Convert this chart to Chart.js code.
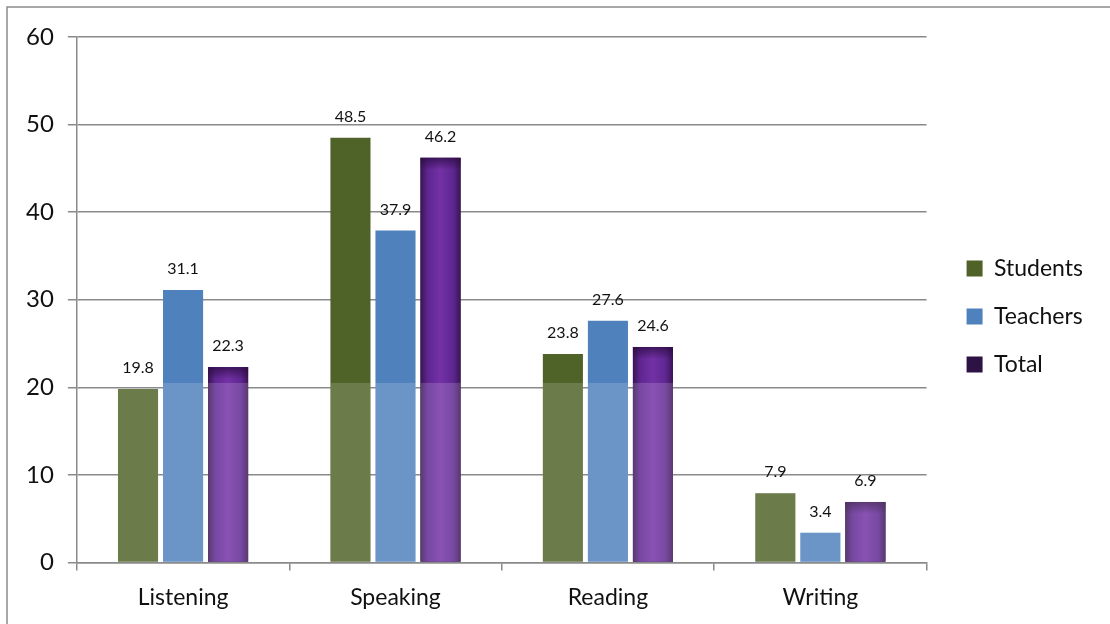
<!DOCTYPE html>
<html>
<head>
<meta charset="utf-8">
<script src="https://cdn.jsdelivr.net/npm/chart.js@4"></script>
<style>
  body { margin: 0; background: #fff; }
  #wrap { width: 1110px; height: 624px; position: relative; }
</style>
</head>
<body>
<div id="wrap"><canvas id="skills"></canvas></div>
<script>
const categories = ['Listening', 'Speaking', 'Reading', 'Writing'];
const students = [19.8, 48.5, 23.8, 7.9];
const teachers = [31.1, 37.9, 27.6, 3.4];
const total = [22.3, 46.2, 24.6, 6.9];

const FONT = 'Lato, "Open Sans", sans-serif';
const GRID = '#8a8a8a';

// outer frame of the figure
const framePlugin = {
  id: 'frame',
  beforeDraw(chart) {
    const c = chart.ctx;
    c.save();
    c.fillStyle = '#fff';
    c.fillRect(0, 0, chart.width, chart.height);
    c.strokeStyle = '#8c8c8c';
    c.lineWidth = 1.5;
    c.strokeRect(7, 7, chart.width + 50, chart.height + 50);
    c.restore();
  }
};

// purple glow on the Total bars, faded lower half, value labels
const barExtras = {
  id: 'barExtras',
  afterDatasetsDraw(chart) {
    const c = chart.ctx;
    const yScale = chart.scales.y;
    const fadeTop = yScale.getPixelForValue(20.5);

    const meta3 = chart.getDatasetMeta(2);
    meta3.data.forEach(el => {
      const l = el.x - el.width / 2, r = el.x + el.width / 2;
      const g = c.createLinearGradient(l, 0, r, 0);
      g.addColorStop(0, '#3a1454');
      g.addColorStop(0.18, '#5e2690');
      g.addColorStop(0.5, '#7331a6');
      g.addColorStop(0.82, '#5e2690');
      g.addColorStop(1, '#3a1454');
      c.save();
      c.fillStyle = g;
      c.fillRect(l, el.y, el.width, el.base - el.y);
      const v = c.createLinearGradient(0, el.y, 0, el.y + 12);
      v.addColorStop(0, 'rgba(40,10,60,0.7)');
      v.addColorStop(1, 'rgba(40,10,60,0)');
      c.fillStyle = v;
      c.fillRect(l, el.y, el.width, 12);
      c.restore();
    });

    c.save();
    c.fillStyle = 'rgba(255,255,255,0.16)';
    chart.data.datasets.forEach((ds, i) => {
      chart.getDatasetMeta(i).data.forEach(el => {
        const top = Math.max(el.y, fadeTop);
        c.fillRect(el.x - el.width / 2, top, el.width, el.base - top);
      });
    });
    c.restore();

    c.save();
    c.font = '16px ' + FONT;
    c.fillStyle = '#111';
    c.textAlign = 'center';
    c.textBaseline = 'middle';
    chart.data.datasets.forEach((ds, i) => {
      chart.getDatasetMeta(i).data.forEach((el, j) => {
        c.fillText(ds.data[j].toFixed(1), el.x, el.y - 21);
      });
    });
    c.restore();
  }
};

new Chart(document.getElementById('skills'), {
  type: 'bar',
  data: {
    labels: categories,
    datasets: [
      { label: 'Students', data: students, backgroundColor: '#4f6228' },
      { label: 'Teachers', data: teachers, backgroundColor: '#4f81bd' },
      { label: 'Total', data: total, backgroundColor: '#2d1343' }
    ]
  },
  options: {
    responsive: true,
    maintainAspectRatio: false,
    animation: false,
    datasets: {
      bar: { categoryPercentage: 0.636, barPercentage: 0.89 }
    },
    layout: { padding: { left: 12, right: 17, top: 9, bottom: 0 } },
    scales: {
      x: {
        grid: { display: true, drawOnChartArea: false, drawTicks: true, tickLength: 8, color: GRID, lineWidth: 1.5 },
        border: { color: GRID, width: 1.5 },
        ticks: { color: '#111', font: { family: FONT, size: 23 }, padding: 13 }
      },
      y: {
        min: 0,
        max: 60,
        ticks: { stepSize: 10, color: '#111', font: { family: FONT, size: 24 }, padding: 14 },
        grid: { color: GRID, lineWidth: 1.5, tickLength: 9 },
        border: { color: GRID, width: 1.5 }
      },
      // empty spacer axes: room above the plot, gap before the legend
      gapTop: {
        position: 'top',
        display: true,
        grid: { display: false },
        border: { display: false },
        ticks: { display: false },
        afterFit(scale) { scale.height = 28; }
      },
      gap: {
        position: 'right',
        display: true,
        grid: { display: false },
        border: { display: false },
        ticks: { display: false },
        afterFit(scale) { scale.width = 15; }
      }
    },
    plugins: {
      legend: {
        position: 'right',
        labels: {
          color: '#111',
          font: { family: FONT, size: 23 },
          boxWidth: 16,
          boxHeight: 16,
          padding: 25
        }
      },
      tooltip: { enabled: false }
    }
  },
  plugins: [framePlugin, barExtras]
});
</script>
</body>
</html>
